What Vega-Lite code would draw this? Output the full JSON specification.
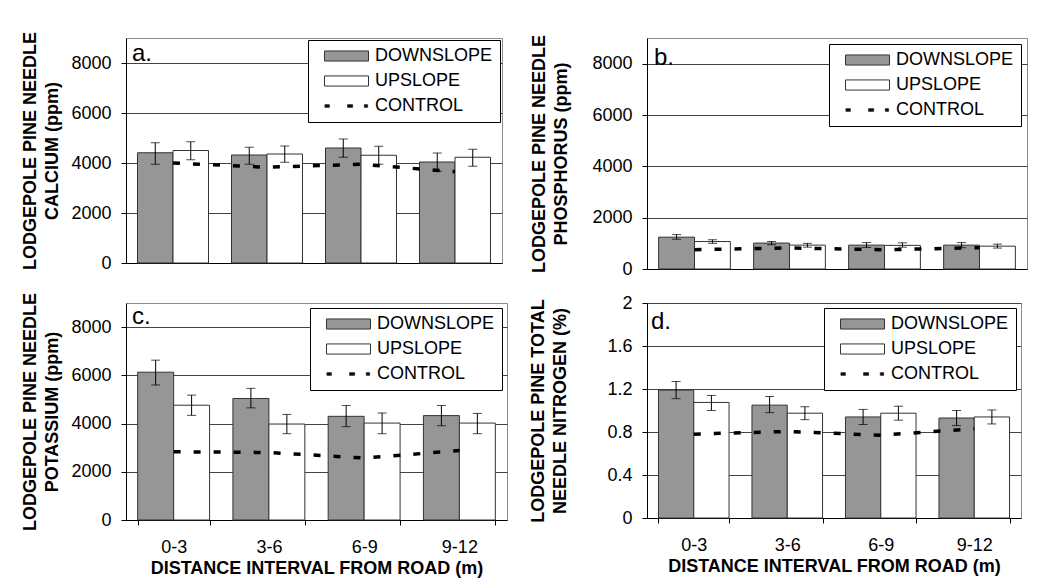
{
  "$schema": "https://vega.github.io/schema/vega-lite/v6.json",
  "padding": {"left": 21, "top": 30, "right": 20, "bottom": 5},
  "background": "white",
  "bounds": "flush",
  "align": "none",
  "columns": 2,
  "spacing": {"row": 34, "column": 140},
  "resolve": {"scale": {"fill": "independent", "shape": "independent", "xOffset": "independent"}, "legend": {"fill": "independent", "shape": "independent"}},
  "datasets": {
    "bars": [
      {"p": "a", "interval": "0-3", "series": "DOWNSLOPE", "value": 4410, "lo": 3950, "hi": 4810},
      {"p": "a", "interval": "0-3", "series": "UPSLOPE", "value": 4500, "lo": 4130, "hi": 4850},
      {"p": "a", "interval": "3-6", "series": "DOWNSLOPE", "value": 4320, "lo": 3950, "hi": 4630},
      {"p": "a", "interval": "3-6", "series": "UPSLOPE", "value": 4360, "lo": 4030, "hi": 4680},
      {"p": "a", "interval": "6-9", "series": "DOWNSLOPE", "value": 4600, "lo": 4230, "hi": 4960},
      {"p": "a", "interval": "6-9", "series": "UPSLOPE", "value": 4310, "lo": 3950, "hi": 4670},
      {"p": "a", "interval": "9-12", "series": "DOWNSLOPE", "value": 4040, "lo": 3670, "hi": 4400},
      {"p": "a", "interval": "9-12", "series": "UPSLOPE", "value": 4230, "lo": 3870, "hi": 4550},
      {"p": "b", "interval": "0-3", "series": "DOWNSLOPE", "value": 1240, "lo": 1160, "hi": 1340},
      {"p": "b", "interval": "0-3", "series": "UPSLOPE", "value": 1070, "lo": 1000, "hi": 1140},
      {"p": "b", "interval": "3-6", "series": "DOWNSLOPE", "value": 1010, "lo": 940, "hi": 1070},
      {"p": "b", "interval": "3-6", "series": "UPSLOPE", "value": 930, "lo": 850, "hi": 1000},
      {"p": "b", "interval": "6-9", "series": "DOWNSLOPE", "value": 930, "lo": 840, "hi": 1030},
      {"p": "b", "interval": "6-9", "series": "UPSLOPE", "value": 920, "lo": 850, "hi": 1020},
      {"p": "b", "interval": "9-12", "series": "DOWNSLOPE", "value": 930, "lo": 830, "hi": 1030},
      {"p": "b", "interval": "9-12", "series": "UPSLOPE", "value": 890, "lo": 815, "hi": 970},
      {"p": "c", "interval": "0-3", "series": "DOWNSLOPE", "value": 6130, "lo": 5600, "hi": 6630},
      {"p": "c", "interval": "0-3", "series": "UPSLOPE", "value": 4760, "lo": 4340, "hi": 5180},
      {"p": "c", "interval": "3-6", "series": "DOWNSLOPE", "value": 5040, "lo": 4650, "hi": 5460},
      {"p": "c", "interval": "3-6", "series": "UPSLOPE", "value": 3980, "lo": 3580, "hi": 4380},
      {"p": "c", "interval": "6-9", "series": "DOWNSLOPE", "value": 4300, "lo": 3870, "hi": 4750},
      {"p": "c", "interval": "6-9", "series": "UPSLOPE", "value": 4020, "lo": 3580, "hi": 4440},
      {"p": "c", "interval": "9-12", "series": "DOWNSLOPE", "value": 4330, "lo": 3910, "hi": 4750},
      {"p": "c", "interval": "9-12", "series": "UPSLOPE", "value": 4020, "lo": 3580, "hi": 4420},
      {"p": "d", "interval": "0-3", "series": "DOWNSLOPE", "value": 1.19, "lo": 1.11, "hi": 1.27},
      {"p": "d", "interval": "0-3", "series": "UPSLOPE", "value": 1.075, "lo": 1.0, "hi": 1.14},
      {"p": "d", "interval": "3-6", "series": "DOWNSLOPE", "value": 1.05, "lo": 0.98, "hi": 1.13},
      {"p": "d", "interval": "3-6", "series": "UPSLOPE", "value": 0.975, "lo": 0.915, "hi": 1.035},
      {"p": "d", "interval": "6-9", "series": "DOWNSLOPE", "value": 0.94, "lo": 0.87, "hi": 1.01},
      {"p": "d", "interval": "6-9", "series": "UPSLOPE", "value": 0.975, "lo": 0.91, "hi": 1.04},
      {"p": "d", "interval": "9-12", "series": "DOWNSLOPE", "value": 0.93, "lo": 0.86, "hi": 1.0},
      {"p": "d", "interval": "9-12", "series": "UPSLOPE", "value": 0.94, "lo": 0.875, "hi": 1.005}
    ],
    "ctrl": [
      {"p": "a", "interval": "0-3", "value": 4000},
      {"p": "a", "interval": "3-6", "value": 3830},
      {"p": "a", "interval": "6-9", "value": 3950},
      {"p": "a", "interval": "9-12", "value": 3650},
      {"p": "b", "interval": "0-3", "value": 750},
      {"p": "b", "interval": "3-6", "value": 820},
      {"p": "b", "interval": "6-9", "value": 750},
      {"p": "b", "interval": "9-12", "value": 830},
      {"p": "c", "interval": "0-3", "value": 2830},
      {"p": "c", "interval": "3-6", "value": 2800},
      {"p": "c", "interval": "6-9", "value": 2570},
      {"p": "c", "interval": "9-12", "value": 2880},
      {"p": "d", "interval": "0-3", "value": 0.78},
      {"p": "d", "interval": "3-6", "value": 0.805},
      {"p": "d", "interval": "6-9", "value": 0.77},
      {"p": "d", "interval": "9-12", "value": 0.83}
    ]
  },
  "concat": [
    {
      "width": 376, "height": 225,
      "title": {"text": "a.", "anchor": "start", "frame": "group", "orient": "top", "offset": -54, "baseline": "alphabetic", "dx": 6, "fontSize": 24, "fontWeight": "normal", "font": "Liberation Sans", "color": "#000"},
      "layer": [
        {"data": {"name": "bars"}, "transform": [{"filter": "datum.p === 'a'"}],
         "mark": {"type": "bar", "stroke": "#333", "strokeWidth": 1},
         "encoding": {
           "x": {"field": "interval", "type": "nominal", "sort": ["0-3", "3-6", "6-9", "9-12"], "scale": {"paddingInner": 0.245, "paddingOuter": 0.1225}, "axis": {"labels": false, "ticks": false, "title": null, "grid": false}},
           "xOffset": {"field": "series", "type": "nominal", "sort": ["DOWNSLOPE", "UPSLOPE"], "scale": {"paddingInner": 0, "paddingOuter": 0}},
           "y": {"field": "value", "type": "quantitative", "scale": {"domain": [0, 9000], "nice": false}, "axis": {"values": [0, 2000, 4000, 6000, 8000], "format": "d", "grid": true, "title": ["LODGEPOLE PINE NEEDLE", "CALCIUM (ppm)"], "titleLineHeight": 22, "titlePadding": 9}},
           "fill": {"field": "series", "type": "nominal", "scale": {"domain": ["DOWNSLOPE", "UPSLOPE", "CONTROL"], "range": ["#969696", "#ffffff", "#000000"]}}
         }},
        {"data": {"name": "bars"}, "transform": [{"filter": "datum.p === 'a'"}],
         "mark": {"type": "rule", "color": "#000", "strokeWidth": 1},
         "encoding": {
           "x": {"field": "interval", "type": "nominal", "sort": ["0-3", "3-6", "6-9", "9-12"]},
           "xOffset": {"field": "series", "type": "nominal", "sort": ["DOWNSLOPE", "UPSLOPE"]},
           "y": {"field": "lo", "type": "quantitative"}, "y2": {"field": "hi"}}},
        {"data": {"name": "bars"}, "transform": [{"filter": "datum.p === 'a'"}],
         "mark": {"type": "tick", "color": "#000", "size": 9, "thickness": 1},
         "encoding": {
           "x": {"field": "interval", "type": "nominal", "sort": ["0-3", "3-6", "6-9", "9-12"]},
           "xOffset": {"field": "series", "type": "nominal", "sort": ["DOWNSLOPE", "UPSLOPE"]},
           "y": {"field": "lo", "type": "quantitative"}}},
        {"data": {"name": "bars"}, "transform": [{"filter": "datum.p === 'a'"}],
         "mark": {"type": "tick", "color": "#000", "size": 9, "thickness": 1},
         "encoding": {
           "x": {"field": "interval", "type": "nominal", "sort": ["0-3", "3-6", "6-9", "9-12"]},
           "xOffset": {"field": "series", "type": "nominal", "sort": ["DOWNSLOPE", "UPSLOPE"]},
           "y": {"field": "hi", "type": "quantitative"}}},
        {"data": {"name": "ctrl"}, "transform": [{"filter": "datum.p === 'a'"}],
         "mark": {"type": "line", "color": "#000", "strokeWidth": 3.5, "strokeDash": [7, 13]},
         "encoding": {
           "x": {"field": "interval", "type": "nominal", "sort": ["0-3", "3-6", "6-9", "9-12"]},
           "y": {"field": "value", "type": "quantitative"}}},
        {"data": {"name": "bars"}, "transform": [{"filter": "false"}],
         "mark": {"type": "point", "filled": true, "stroke": "#000", "strokeWidth": 1, "opacity": 1},
         "encoding": {
           "fill": {"field": "series", "type": "nominal", "scale": {"domain": ["DOWNSLOPE", "UPSLOPE", "CONTROL"], "range": ["#969696", "#ffffff", "#000000"]},
             "legend": {"title": null, "orient": "top-right", "offset": 2, "padding": 7, "symbolOffset": 9, "labelOffset": 6, "rowPadding": 7, "clipHeight": 18, "labelFontSize": 18, "labelFont": "Liberation Sans", "labelColor": "#000", "fillColor": "#ffffff", "strokeColor": "#000", "symbolSize": 1936, "symbolStrokeWidth": 1, "symbolStrokeColor": "#000", "symbolOpacity": 1}},
           "shape": {"field": "series", "type": "nominal", "scale": {"domain": ["DOWNSLOPE", "UPSLOPE", "CONTROL"], "range": ["M-1,-0.23H1V0.23H-1Z", "M-1,-0.23H1V0.23H-1Z", "M-0.98,-0.057H-0.78V0.057H-0.98Z M0.05,-0.057H0.28V0.057H0.05Z M0.81,-0.057H0.96V0.057H0.81Z"]},
             "legend": {"title": null, "orient": "top-right", "offset": 2, "padding": 7, "symbolOffset": 9, "labelOffset": 6, "rowPadding": 7, "clipHeight": 18, "labelFontSize": 18, "labelFont": "Liberation Sans", "labelColor": "#000", "fillColor": "#ffffff", "strokeColor": "#000", "symbolSize": 1936, "symbolStrokeWidth": 1, "symbolStrokeColor": "#000", "symbolOpacity": 1}}
         }}
      ]
    },
    {
      "width": 380, "height": 231,
      "title": {"text": "b.", "anchor": "start", "frame": "group", "orient": "top", "offset": -55, "baseline": "alphabetic", "dx": 7, "fontSize": 24, "fontWeight": "normal", "font": "Liberation Sans", "color": "#000"},
      "layer": [
        {"data": {"name": "bars"}, "transform": [{"filter": "datum.p === 'b'"}],
         "mark": {"type": "bar", "stroke": "#333", "strokeWidth": 1},
         "encoding": {
           "x": {"field": "interval", "type": "nominal", "sort": ["0-3", "3-6", "6-9", "9-12"], "scale": {"paddingInner": 0.245, "paddingOuter": 0.1225}, "axis": {"labels": false, "ticks": false, "title": null, "grid": false}},
           "xOffset": {"field": "series", "type": "nominal", "sort": ["DOWNSLOPE", "UPSLOPE"], "scale": {"paddingInner": 0, "paddingOuter": 0}},
           "y": {"field": "value", "type": "quantitative", "scale": {"domain": [0, 9000], "nice": false}, "axis": {"values": [0, 2000, 4000, 6000, 8000], "format": "d", "grid": true, "title": ["LODGEPOLE PINE NEEDLE", "PHOSPHORUS (ppm)"], "titleLineHeight": 22, "titlePadding": 21}},
           "fill": {"field": "series", "type": "nominal", "scale": {"domain": ["DOWNSLOPE", "UPSLOPE", "CONTROL"], "range": ["#969696", "#ffffff", "#000000"]}}
         }},
        {"data": {"name": "bars"}, "transform": [{"filter": "datum.p === 'b'"}],
         "mark": {"type": "rule", "color": "#000", "strokeWidth": 1},
         "encoding": {
           "x": {"field": "interval", "type": "nominal", "sort": ["0-3", "3-6", "6-9", "9-12"]},
           "xOffset": {"field": "series", "type": "nominal", "sort": ["DOWNSLOPE", "UPSLOPE"]},
           "y": {"field": "lo", "type": "quantitative"}, "y2": {"field": "hi"}}},
        {"data": {"name": "bars"}, "transform": [{"filter": "datum.p === 'b'"}],
         "mark": {"type": "tick", "color": "#000", "size": 9, "thickness": 1},
         "encoding": {
           "x": {"field": "interval", "type": "nominal", "sort": ["0-3", "3-6", "6-9", "9-12"]},
           "xOffset": {"field": "series", "type": "nominal", "sort": ["DOWNSLOPE", "UPSLOPE"]},
           "y": {"field": "lo", "type": "quantitative"}}},
        {"data": {"name": "bars"}, "transform": [{"filter": "datum.p === 'b'"}],
         "mark": {"type": "tick", "color": "#000", "size": 9, "thickness": 1},
         "encoding": {
           "x": {"field": "interval", "type": "nominal", "sort": ["0-3", "3-6", "6-9", "9-12"]},
           "xOffset": {"field": "series", "type": "nominal", "sort": ["DOWNSLOPE", "UPSLOPE"]},
           "y": {"field": "hi", "type": "quantitative"}}},
        {"data": {"name": "ctrl"}, "transform": [{"filter": "datum.p === 'b'"}],
         "mark": {"type": "line", "color": "#000", "strokeWidth": 3.5, "strokeDash": [7, 13]},
         "encoding": {
           "x": {"field": "interval", "type": "nominal", "sort": ["0-3", "3-6", "6-9", "9-12"]},
           "y": {"field": "value", "type": "quantitative"}}},
        {"data": {"name": "bars"}, "transform": [{"filter": "false"}],
         "mark": {"type": "point", "filled": true, "stroke": "#000", "strokeWidth": 1, "opacity": 1},
         "encoding": {
           "fill": {"field": "series", "type": "nominal", "scale": {"domain": ["DOWNSLOPE", "UPSLOPE", "CONTROL"], "range": ["#969696", "#ffffff", "#000000"]},
             "legend": {"title": null, "orient": "top-right", "offset": 6, "padding": 7, "symbolOffset": 9, "labelOffset": 6, "rowPadding": 7, "clipHeight": 18, "labelFontSize": 18, "labelFont": "Liberation Sans", "labelColor": "#000", "fillColor": "#ffffff", "strokeColor": "#000", "symbolSize": 1936, "symbolStrokeWidth": 1, "symbolStrokeColor": "#000", "symbolOpacity": 1}},
           "shape": {"field": "series", "type": "nominal", "scale": {"domain": ["DOWNSLOPE", "UPSLOPE", "CONTROL"], "range": ["M-1,-0.23H1V0.23H-1Z", "M-1,-0.23H1V0.23H-1Z", "M-0.98,-0.057H-0.78V0.057H-0.98Z M0.05,-0.057H0.28V0.057H0.05Z M0.81,-0.057H0.96V0.057H0.81Z"]},
             "legend": {"title": null, "orient": "top-right", "offset": 6, "padding": 7, "symbolOffset": 9, "labelOffset": 6, "rowPadding": 7, "clipHeight": 18, "labelFontSize": 18, "labelFont": "Liberation Sans", "labelColor": "#000", "fillColor": "#ffffff", "strokeColor": "#000", "symbolSize": 1936, "symbolStrokeWidth": 1, "symbolStrokeColor": "#000", "symbolOpacity": 1}}
         }}
      ]
    },
    {
      "width": 381, "height": 217,
      "title": {"text": "c.", "anchor": "start", "frame": "group", "orient": "top", "offset": -56, "baseline": "alphabetic", "dx": 6, "fontSize": 24, "fontWeight": "normal", "font": "Liberation Sans", "color": "#000"},
      "layer": [
        {"data": {"name": "bars"}, "transform": [{"filter": "datum.p === 'c'"}],
         "mark": {"type": "bar", "stroke": "#333", "strokeWidth": 1},
         "encoding": {
           "x": {"field": "interval", "type": "nominal", "sort": ["0-3", "3-6", "6-9", "9-12"], "scale": {"paddingInner": 0.245, "paddingOuter": 0.1225}, "axis": {"tickBand": "extent", "labelAngle": 0, "labelPadding": 13, "title": "DISTANCE INTERVAL FROM ROAD (m)", "titlePadding": 3, "grid": false}},
           "xOffset": {"field": "series", "type": "nominal", "sort": ["DOWNSLOPE", "UPSLOPE"], "scale": {"paddingInner": 0, "paddingOuter": 0}},
           "y": {"field": "value", "type": "quantitative", "scale": {"domain": [0, 9000], "nice": false}, "axis": {"values": [0, 2000, 4000, 6000, 8000], "format": "d", "grid": true, "title": ["LODGEPOLE PINE NEEDLE", "POTASSIUM (ppm)"], "titleLineHeight": 22, "titlePadding": 9}},
           "fill": {"field": "series", "type": "nominal", "scale": {"domain": ["DOWNSLOPE", "UPSLOPE", "CONTROL"], "range": ["#969696", "#ffffff", "#000000"]}}
         }},
        {"data": {"name": "bars"}, "transform": [{"filter": "datum.p === 'c'"}],
         "mark": {"type": "rule", "color": "#000", "strokeWidth": 1},
         "encoding": {
           "x": {"field": "interval", "type": "nominal", "sort": ["0-3", "3-6", "6-9", "9-12"]},
           "xOffset": {"field": "series", "type": "nominal", "sort": ["DOWNSLOPE", "UPSLOPE"]},
           "y": {"field": "lo", "type": "quantitative"}, "y2": {"field": "hi"}}},
        {"data": {"name": "bars"}, "transform": [{"filter": "datum.p === 'c'"}],
         "mark": {"type": "tick", "color": "#000", "size": 9, "thickness": 1},
         "encoding": {
           "x": {"field": "interval", "type": "nominal", "sort": ["0-3", "3-6", "6-9", "9-12"]},
           "xOffset": {"field": "series", "type": "nominal", "sort": ["DOWNSLOPE", "UPSLOPE"]},
           "y": {"field": "lo", "type": "quantitative"}}},
        {"data": {"name": "bars"}, "transform": [{"filter": "datum.p === 'c'"}],
         "mark": {"type": "tick", "color": "#000", "size": 9, "thickness": 1},
         "encoding": {
           "x": {"field": "interval", "type": "nominal", "sort": ["0-3", "3-6", "6-9", "9-12"]},
           "xOffset": {"field": "series", "type": "nominal", "sort": ["DOWNSLOPE", "UPSLOPE"]},
           "y": {"field": "hi", "type": "quantitative"}}},
        {"data": {"name": "ctrl"}, "transform": [{"filter": "datum.p === 'c'"}],
         "mark": {"type": "line", "color": "#000", "strokeWidth": 3.5, "strokeDash": [7, 13]},
         "encoding": {
           "x": {"field": "interval", "type": "nominal", "sort": ["0-3", "3-6", "6-9", "9-12"]},
           "y": {"field": "value", "type": "quantitative"}}},
        {"data": {"name": "bars"}, "transform": [{"filter": "false"}],
         "mark": {"type": "point", "filled": true, "stroke": "#000", "strokeWidth": 1, "opacity": 1},
         "encoding": {
           "fill": {"field": "series", "type": "nominal", "scale": {"domain": ["DOWNSLOPE", "UPSLOPE", "CONTROL"], "range": ["#969696", "#ffffff", "#000000"]},
             "legend": {"title": null, "orient": "top-right", "offset": 5, "padding": 7, "symbolOffset": 9, "labelOffset": 6, "rowPadding": 7, "clipHeight": 18, "labelFontSize": 18, "labelFont": "Liberation Sans", "labelColor": "#000", "fillColor": "#ffffff", "strokeColor": "#000", "symbolSize": 1936, "symbolStrokeWidth": 1, "symbolStrokeColor": "#000", "symbolOpacity": 1}},
           "shape": {"field": "series", "type": "nominal", "scale": {"domain": ["DOWNSLOPE", "UPSLOPE", "CONTROL"], "range": ["M-1,-0.23H1V0.23H-1Z", "M-1,-0.23H1V0.23H-1Z", "M-0.98,-0.057H-0.78V0.057H-0.98Z M0.05,-0.057H0.28V0.057H0.05Z M0.81,-0.057H0.96V0.057H0.81Z"]},
             "legend": {"title": null, "orient": "top-right", "offset": 5, "padding": 7, "symbolOffset": 9, "labelOffset": 6, "rowPadding": 7, "clipHeight": 18, "labelFontSize": 18, "labelFont": "Liberation Sans", "labelColor": "#000", "fillColor": "#ffffff", "strokeColor": "#000", "symbolSize": 1936, "symbolStrokeWidth": 1, "symbolStrokeColor": "#000", "symbolOpacity": 1}}
         }}
      ]
    },
    {
      "width": 374, "height": 215,
      "title": {"text": "d.", "anchor": "start", "frame": "group", "orient": "top", "offset": -59, "baseline": "alphabetic", "dx": 4, "fontSize": 24, "fontWeight": "normal", "font": "Liberation Sans", "color": "#000"},
      "layer": [
        {"data": {"name": "bars"}, "transform": [{"filter": "datum.p === 'd'"}],
         "mark": {"type": "bar", "stroke": "#333", "strokeWidth": 1},
         "encoding": {
           "x": {"field": "interval", "type": "nominal", "sort": ["0-3", "3-6", "6-9", "9-12"], "scale": {"paddingInner": 0.245, "paddingOuter": 0.1225}, "axis": {"tickBand": "extent", "labelAngle": 0, "labelPadding": 13, "title": "DISTANCE INTERVAL FROM ROAD (m)", "titlePadding": 3, "grid": false}},
           "xOffset": {"field": "series", "type": "nominal", "sort": ["DOWNSLOPE", "UPSLOPE"], "scale": {"paddingInner": 0, "paddingOuter": 0}},
           "y": {"field": "value", "type": "quantitative", "scale": {"domain": [0, 2], "nice": false}, "axis": {"values": [0, 0.4, 0.8, 1.2, 1.6, 2], "format": "~g", "grid": true, "title": ["LODGEPOLE PINE TOTAL", "NEEDLE NITROGEN (%)"], "titleLineHeight": 22, "titlePadding": 37}},
           "fill": {"field": "series", "type": "nominal", "scale": {"domain": ["DOWNSLOPE", "UPSLOPE", "CONTROL"], "range": ["#969696", "#ffffff", "#000000"]}}
         }},
        {"data": {"name": "bars"}, "transform": [{"filter": "datum.p === 'd'"}],
         "mark": {"type": "rule", "color": "#000", "strokeWidth": 1},
         "encoding": {
           "x": {"field": "interval", "type": "nominal", "sort": ["0-3", "3-6", "6-9", "9-12"]},
           "xOffset": {"field": "series", "type": "nominal", "sort": ["DOWNSLOPE", "UPSLOPE"]},
           "y": {"field": "lo", "type": "quantitative"}, "y2": {"field": "hi"}}},
        {"data": {"name": "bars"}, "transform": [{"filter": "datum.p === 'd'"}],
         "mark": {"type": "tick", "color": "#000", "size": 9, "thickness": 1},
         "encoding": {
           "x": {"field": "interval", "type": "nominal", "sort": ["0-3", "3-6", "6-9", "9-12"]},
           "xOffset": {"field": "series", "type": "nominal", "sort": ["DOWNSLOPE", "UPSLOPE"]},
           "y": {"field": "lo", "type": "quantitative"}}},
        {"data": {"name": "bars"}, "transform": [{"filter": "datum.p === 'd'"}],
         "mark": {"type": "tick", "color": "#000", "size": 9, "thickness": 1},
         "encoding": {
           "x": {"field": "interval", "type": "nominal", "sort": ["0-3", "3-6", "6-9", "9-12"]},
           "xOffset": {"field": "series", "type": "nominal", "sort": ["DOWNSLOPE", "UPSLOPE"]},
           "y": {"field": "hi", "type": "quantitative"}}},
        {"data": {"name": "ctrl"}, "transform": [{"filter": "datum.p === 'd'"}],
         "mark": {"type": "line", "color": "#000", "strokeWidth": 3.5, "strokeDash": [7, 13]},
         "encoding": {
           "x": {"field": "interval", "type": "nominal", "sort": ["0-3", "3-6", "6-9", "9-12"]},
           "y": {"field": "value", "type": "quantitative"}}},
        {"data": {"name": "bars"}, "transform": [{"filter": "false"}],
         "mark": {"type": "point", "filled": true, "stroke": "#000", "strokeWidth": 1, "opacity": 1},
         "encoding": {
           "fill": {"field": "series", "type": "nominal", "scale": {"domain": ["DOWNSLOPE", "UPSLOPE", "CONTROL"], "range": ["#969696", "#ffffff", "#000000"]},
             "legend": {"title": null, "orient": "top-right", "offset": 5, "padding": 7, "symbolOffset": 9, "labelOffset": 6, "rowPadding": 7, "clipHeight": 18, "labelFontSize": 18, "labelFont": "Liberation Sans", "labelColor": "#000", "fillColor": "#ffffff", "strokeColor": "#000", "symbolSize": 1936, "symbolStrokeWidth": 1, "symbolStrokeColor": "#000", "symbolOpacity": 1}},
           "shape": {"field": "series", "type": "nominal", "scale": {"domain": ["DOWNSLOPE", "UPSLOPE", "CONTROL"], "range": ["M-1,-0.23H1V0.23H-1Z", "M-1,-0.23H1V0.23H-1Z", "M-0.98,-0.057H-0.78V0.057H-0.98Z M0.05,-0.057H0.28V0.057H0.05Z M0.81,-0.057H0.96V0.057H0.81Z"]},
             "legend": {"title": null, "orient": "top-right", "offset": 5, "padding": 7, "symbolOffset": 9, "labelOffset": 6, "rowPadding": 7, "clipHeight": 18, "labelFontSize": 18, "labelFont": "Liberation Sans", "labelColor": "#000", "fillColor": "#ffffff", "strokeColor": "#000", "symbolSize": 1936, "symbolStrokeWidth": 1, "symbolStrokeColor": "#000", "symbolOpacity": 1}}
         }}
      ]
    }
  ],
  "config": {
    "font": "Liberation Sans",
    "view": {"stroke": "#8c8c8c"},
    "axis": {"labelFont": "Liberation Sans", "labelFontSize": 18, "labelColor": "#000", "titleFont": "Liberation Sans", "titleFontSize": 18, "titleFontWeight": "bold", "titleColor": "#000", "domainColor": "#000", "tickColor": "#000", "tickSize": 5, "labelPadding": 10, "gridColor": "#444", "gridOpacity": 1}
  }
}
